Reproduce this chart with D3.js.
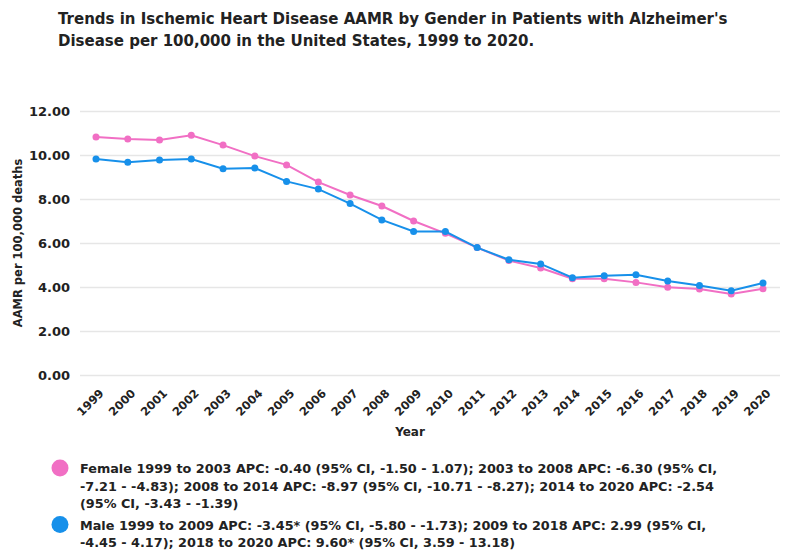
<!DOCTYPE html>
<html>
<head>
<meta charset="utf-8">
<script src="https://cdn.jsdelivr.net/npm/d3@7"></script>
<style>
  body { margin: 0; background: #fff; }
  svg text { font-family: "DejaVu Sans", sans-serif; fill: #222; }
</style>
</head>
<body>
<svg id="chart"></svg>
<script>
const years = [1999, 2000, 2001, 2002, 2003, 2004, 2005, 2006, 2007, 2008, 2009,
               2010, 2011, 2012, 2013, 2014, 2015, 2016, 2017, 2018, 2019, 2020];
const female = [10.82, 10.73, 10.68, 10.90, 10.45, 9.95, 9.55, 8.77, 8.18, 7.68, 7.00,
                6.44, 5.79, 5.20, 4.86, 4.38, 4.38, 4.21, 3.99, 3.91, 3.68, 3.92];
const male = [9.82, 9.67, 9.77, 9.82, 9.38, 9.41, 8.80, 8.45, 7.79, 7.05, 6.52,
              6.52, 5.79, 5.24, 5.05, 4.42, 4.51, 4.56, 4.27, 4.07, 3.83, 4.18];
const yTicks = [0, 2, 4, 6, 8, 10, 12];
const titleLines = [
  "Trends in Ischemic Heart Disease AAMR by Gender in Patients with Alzheimer's",
  "Disease per 100,000 in the United States, 1999 to 2020."
];
const legendItems = [
  { name: "Female", color: "#f16fc4", lines: [
    "Female 1999 to 2003 APC: -0.40 (95% CI, -1.50 - 1.07); 2003 to 2008 APC: -6.30 (95% CI,",
    "-7.21 - -4.83); 2008 to 2014 APC: -8.97 (95% CI, -10.71 - -8.27); 2014 to 2020 APC: -2.54",
    "(95% CI, -3.43 - -1.39)"] },
  { name: "Male", color: "#1790ea", lines: [
    "Male 1999 to 2009 APC: -3.45* (95% CI, -5.80 - -1.73); 2009 to 2018 APC: 2.99 (95% CI,",
    "-4.45 - 4.17); 2018 to 2020 APC: 9.60* (95% CI, 3.59 - 13.18)"] }
];

const width = 790, height = 555;
const svg = d3.select("#chart").attr("width", width).attr("height", height);

// title
svg.append("g").selectAll("text")
  .data(titleLines)
  .enter().append("text")
  .attr("x", 58)
  .attr("y", (d, i) => 24 + i * 22)
  .attr("font-size", "15px")
  .attr("font-weight", "bold")
  .text(d => d);

const x = d3.scalePoint().domain(years).range([96, 763]);
const y = d3.scaleLinear().domain([0, 12]).range([375, 111]);

// grid + y labels
const yAxis = svg.append("g")
  .attr("transform", "translate(80,0)")
  .call(d3.axisLeft(y).tickValues(yTicks).tickSize(-700).tickFormat(d3.format(".2f")).tickPadding(10));
yAxis.select(".domain").remove();
yAxis.selectAll("line").attr("stroke", "#e6e6e6").attr("stroke-width", 1.5);
yAxis.selectAll("text").attr("font-size", "13px").attr("font-weight", "bold").attr("fill", "#333");

// x labels, rotated so the end of each label sits just right of its tick
const xAxis = svg.append("g")
  .attr("transform", "translate(0,375)")
  .call(d3.axisBottom(x).tickSize(0).tickPadding(0));
xAxis.select(".domain").remove();
xAxis.selectAll("text")
  .attr("x", 0).attr("y", 0).attr("dy", 0)
  .attr("font-size", "11.5px")
  .attr("font-weight", "bold")
  .attr("fill", "#333")
  .attr("text-anchor", "end")
  .attr("transform", "translate(8,19) rotate(-45)");

svg.append("text")
  .attr("x", 410).attr("y", 436)
  .attr("text-anchor", "middle")
  .attr("font-size", "12px").attr("font-weight", "bold")
  .text("Year");

svg.append("text")
  .attr("transform", "translate(22,243) rotate(-90)")
  .attr("text-anchor", "middle")
  .attr("font-size", "11.5px").attr("font-weight", "bold")
  .text("AAMR per 100,000 deaths");

// series
const series = [
  { values: female, color: legendItems[0].color },
  { values: male, color: legendItems[1].color }
];
const line = d3.line().x((d, i) => x(years[i])).y(d => y(d));

series.forEach(s => {
  svg.append("path")
    .datum(s.values)
    .attr("fill", "none")
    .attr("stroke", s.color)
    .attr("stroke-width", 2)
    .attr("d", line);
  svg.append("g").selectAll("circle")
    .data(s.values)
    .enter().append("circle")
    .attr("cx", (d, i) => x(years[i]))
    .attr("cy", d => y(d))
    .attr("r", 3.5)
    .attr("fill", s.color);
});

// legend
let ly = 470;
legendItems.forEach(item => {
  svg.append("circle")
    .attr("cx", 60).attr("cy", ly - 2).attr("r", 8.5)
    .attr("fill", item.color);
  item.lines.forEach((t, i) => {
    svg.append("text")
      .attr("x", 80).attr("y", ly + 3 + i * 17.5)
      .attr("font-size", "12.8px").attr("font-weight", "bold")
      .text(t);
  });
  ly += item.lines.length * 17.5 + 4;
});
</script>
</body>
</html>
